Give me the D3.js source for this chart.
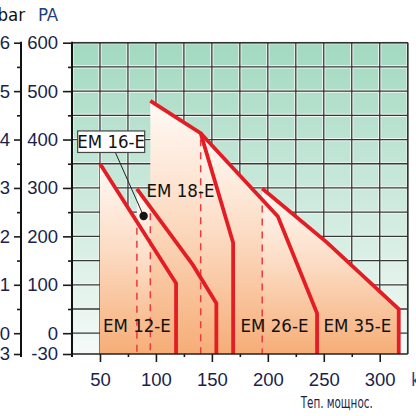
<!DOCTYPE html>
<html lang="ru">
<head>
<meta charset="UTF-8">
<title>EM burners</title>
<script src="https://d3js.org/d3.v7.min.js"></script>
<style>
  body { margin: 0; background: #fff; }
  svg { display: block; font-family: "Liberation Sans Narrow", "Arial Narrow", "DejaVu Sans Condensed", sans-serif; }
  .tick text { font-size: 18.5px; fill: #1a1f4b; }
  .tick line { stroke: #1a1a1a; stroke-width: 1.6; }
  .burner-label { font-size: 18.5px; fill: #111; }
</style>
</head>
<body>
<svg id="chart" width="416" height="416"></svg>
<script>
// burner curves: [power kW, pressure Pa]
const burners = ["EM 12-E", "EM 16-E", "EM 18-E", "EM 26-E", "EM 35-E"];
const em12 = [[50, 350], [118, 103], [118, -30]];
const em16 = [[83, 298], [133, 141], [154, 62], [154, -30]];
const em18 = [[95, 480], [140, 413], [169, 187], [169, -30]];
const em26 = [[140, 413], [209, 241], [244, 41], [244, -30]];
const em35 = [[195, 299], [253, 187], [317, 50], [317, -30]];
const curves = [em12, em16, em18, em26, em35];

const paTicks = [-30, 0, 100, 200, 300, 400, 500, 600];
const paMinor = [50, 150, 250, 350, 450, 550];
const mbarLabels = ["-0,3", "0", "1", "2", "3", "4", "5", "6"];
const kwTicks = [50, 100, 150, 200, 250, 300];
const kwMinor = [75, 125, 175, 225, 275];
const gridX = d3.range(25, 326, 25);
const gridY = d3.range(0, 601, 50);
const dotPoint = [89, 242];

const svg = d3.select("#chart");

const x = d3.scaleLinear().domain([25, 325]).range([72, 407.7]);
const y = d3.scaleLinear().domain([-30, 0, 600]).range([354, 333.2, 42.7]);

const defs = svg.append("defs");
const bg = defs.append("linearGradient").attr("id", "bg").attr("x1", 0).attr("y1", 0).attr("x2", 0).attr("y2", 1);
bg.append("stop").attr("offset", 0).attr("stop-color", "#a2d9c0");
bg.append("stop").attr("offset", 1).attr("stop-color", "#f5faf8");
const og = defs.append("linearGradient").attr("id", "orange").attr("x1", 0).attr("y1", 0).attr("x2", 0).attr("y2", 1);
og.append("stop").attr("offset", 0).attr("stop-color", "#fffaf6");
og.append("stop").attr("offset", 0.45).attr("stop-color", "#fcdcc4");
og.append("stop").attr("offset", 1).attr("stop-color", "#f6ad77");

// plot background
svg.append("rect")
  .attr("x", x(25)).attr("y", y(600))
  .attr("width", x(325) - x(25)).attr("height", y(-30) - y(600))
  .attr("fill", "url(#bg)");

// grid
const grid = svg.append("g");
["#eef8f3", "#383838"].forEach((c, i) => {
  grid.selectAll(null).data(gridX).enter().append("line")
    .attr("x1", d => x(d)).attr("x2", d => x(d))
    .attr("y1", y(600)).attr("y2", y(-30))
    .attr("stroke", c).attr("stroke-width", i ? 1.3 : 3.2);
  grid.selectAll(null).data(gridY).enter().append("line")
    .attr("x1", x(25)).attr("x2", x(325))
    .attr("y1", d => y(d)).attr("y2", d => y(d))
    .attr("stroke", c).attr("stroke-width", i ? 1.3 : 3.2);
});

// burner areas
const area = pts => d3.line().x(d => x(d[0])).y(d => y(d[1]))(pts.concat([[pts[0][0], -30]])) + "Z";
svg.selectAll(".zone").data(curves).enter().append("path")
  .attr("class", "zone")
  .attr("d", area)
  .attr("fill", "url(#orange)");

// first-stage markers (dashed), from the curve of the previous burner
function curveAt(pts, px) {
  for (let i = 0; i < pts.length - 1; i++) {
    const a = pts[i], b = pts[i + 1];
    if (px >= a[0] && px <= b[0] && b[0] > a[0]) return a[1] + (b[1] - a[1]) * (px - a[0]) / (b[0] - a[0]);
  }
  return pts[0][1];
}
const dashes = curves.slice(1).map((c, i) => {
  const prev = i === 2 ? curves[2] : curves[i];
  return {k: c[0][0], top: curveAt(prev, c[0][0])};
});
svg.selectAll(".dash").data(dashes).enter().append("line")
  .attr("x1", d => x(d.k)).attr("x2", d => x(d.k))
  .attr("y1", d => y(d.top) + 6).attr("y2", y(-30))
  .attr("stroke", "#ec3a3f").attr("stroke-width", 1.5)
  .attr("stroke-dasharray", "7,6");

// red curves
svg.selectAll(".curve").data(curves).enter().append("path")
  .attr("d", d3.line().x(d => x(d[0])).y(d => y(d[1])))
  .attr("fill", "none").attr("stroke", "#e41d25")
  .attr("stroke-width", 3.8).attr("stroke-linejoin", "miter");

// frame
svg.append("line").attr("x1", x(25)).attr("x2", x(325)).attr("y1", y(600)).attr("y2", y(600)).attr("stroke", "#333").attr("stroke-width", 1.5);
svg.append("line").attr("x1", x(325)).attr("x2", x(325)).attr("y1", y(600)).attr("y2", y(-30)).attr("stroke", "#333").attr("stroke-width", 1.5);
svg.append("line").attr("x1", x(25)).attr("x2", x(325)).attr("y1", y(-30)).attr("y2", y(-30)).attr("stroke", "#222").attr("stroke-width", 1.5);
svg.append("line").attr("x1", x(25)).attr("x2", x(25)).attr("y1", y(600) - 1).attr("y2", y(-30) + 3).attr("stroke", "#111").attr("stroke-width", 2);

// Pa axis
const paAxis = svg.append("g").attr("transform", `translate(${x(25)},0)`)
  .call(d3.axisLeft(y).tickValues(paTicks).tickSize(9).tickSizeOuter(0).tickPadding(5).tickFormat(String));
svg.append("g").attr("transform", `translate(${x(25)},0)`)
  .call(d3.axisLeft(y).tickValues(paMinor).tickSize(4).tickSizeOuter(0).tickFormat(""))
  .select(".domain").remove();
paAxis.select(".domain").remove();

// mbar axis
const mbar = svg.append("g").attr("transform", "translate(21,0)")
  .call(d3.axisLeft(y).tickValues(paTicks).tickSize(7).tickSizeOuter(0).tickPadding(4)
    .tickFormat((d, i) => mbarLabels[i]));
mbar.select(".domain").attr("stroke", "#111").attr("stroke-width", 2).attr("d", `M0,${y(600) - 1}V${y(-30) + 3}`);
svg.append("g").attr("transform", "translate(21,0)")
  .call(d3.axisLeft(y).tickValues(paMinor).tickSize(4).tickSizeOuter(0).tickFormat(""))
  .select(".domain").remove();

// kW axis
const kw = svg.append("g").attr("transform", `translate(0,${y(-30)})`)
  .call(d3.axisBottom(x).tickValues(kwTicks).tickSize(8).tickSizeOuter(0).tickPadding(11));
kw.select(".domain").remove();
svg.append("g").attr("transform", `translate(0,${y(-30)})`)
  .call(d3.axisBottom(x).tickValues(kwMinor).tickSize(3).tickSizeOuter(0).tickFormat(""))
  .select(".domain").remove();

svg.selectAll(".tick line").attr("stroke", "#1a1a1a").attr("stroke-width", 1.6);

// axis titles
svg.append("text").attr("x", 48).attr("y", 21).attr("text-anchor", "middle")
  .style("font-size", "18.5px").attr("fill", "#233f7c").text("PA");
svg.append("text").attr("x", 25).attr("y", 21).attr("text-anchor", "end")
  .style("font-size", "18.5px").attr("fill", "#111").text("mbar");
svg.append("text").attr("x", 300.7).attr("y", 408)
  .attr("textLength", 72).attr("lengthAdjust", "spacingAndGlyphs")
  .style("font-size", "16px").attr("fill", "#1a1f4b").text("Теп. мощнос.");
svg.append("text").attr("x", 411).attr("y", 386)
  .style("font-size", "18.5px").attr("fill", "#1f3f86").text("kW");

// burner names
const labelAt = [[83, 0], null, [122, 279], [206, 0], [280, 0]];
svg.selectAll(".burner-label").data(burners.filter((d, i) => labelAt[i]))
  .enter().append("text")
  .attr("class", "burner-label")
  .attr("text-anchor", "middle")
  .attr("x", d => x(labelAt[burners.indexOf(d)][0]))
  .attr("y", d => y(labelAt[burners.indexOf(d)][1]) - 1.5)
  .text(d => d);

// EM 16-E call-out
const box = {cx: x(60), cy: y(395)};
svg.append("line").attr("x1", box.cx + 4).attr("y1", box.cy + 10)
  .attr("x2", x(dotPoint[0])).attr("y2", y(dotPoint[1]))
  .attr("stroke", "#222").attr("stroke-width", 1);
svg.append("circle").attr("cx", x(dotPoint[0])).attr("cy", y(dotPoint[1])).attr("r", 4.2).attr("fill", "#151515");
svg.append("rect").attr("x", box.cx - 33.5).attr("y", box.cy - 11)
  .attr("width", 67).attr("height", 21.5)
  .attr("fill", "#fff").attr("stroke", "#444").attr("stroke-width", 1.2);
svg.append("text").attr("class", "burner-label").attr("text-anchor", "middle")
  .attr("x", box.cx).attr("y", box.cy + 6.5).text(burners[1]);
</script>
</body>
</html>
